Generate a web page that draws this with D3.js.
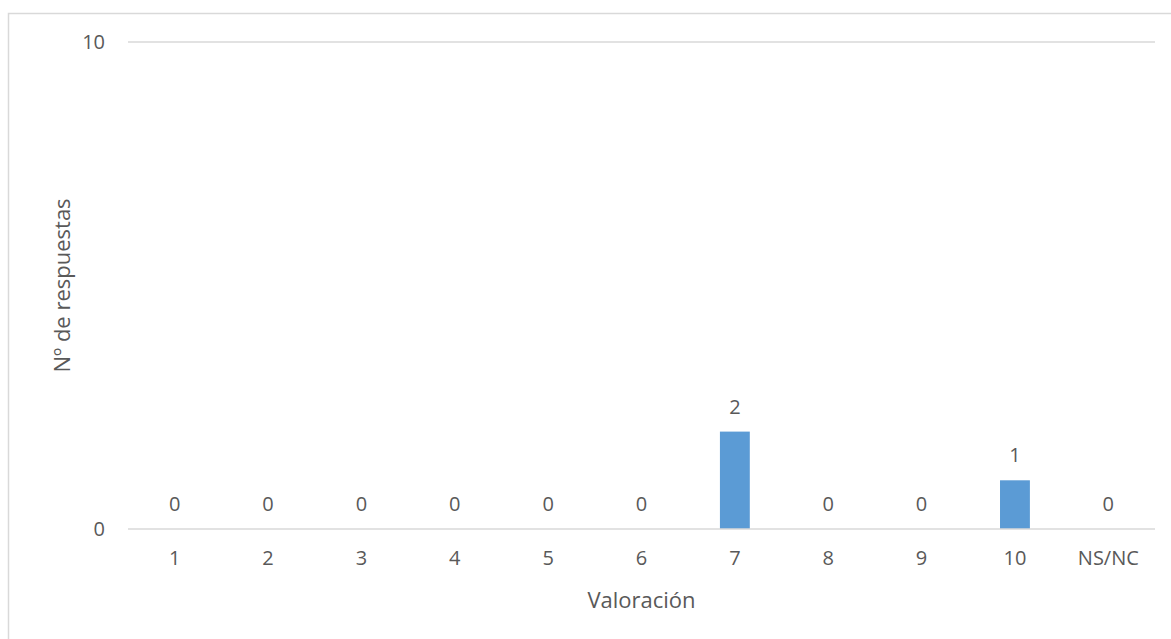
<!DOCTYPE html>
<html>
<head>
<meta charset="utf-8">
<script src="https://cdn.jsdelivr.net/npm/d3@7"></script>
<style>
  html, body { margin: 0; padding: 0; background: #fff; }
  svg { display: block; }
  text { font-family: "Open Sans", "Noto Sans", sans-serif; fill: #595959; }
</style>
</head>
<body>
<svg id="chart" width="1171" height="639"></svg>
<script>
const categories = ["1", "2", "3", "4", "5", "6", "7", "8", "9", "10", "NS/NC"];
const responses  = [0, 0, 0, 0, 0, 0, 2, 0, 0, 1, 0];
const yTicks     = [0, 10];
const xTitle = "Valoración";
const yTitle = "Nº de respuestas";

const data = categories.map((c, i) => ({ cat: c, val: responses[i] }));

const svg = d3.select("#chart");
const W = 1171, H = 639;
const plot = { left: 128, right: 1155, top: 42, bottom: 529 };
const numSize = 20, titleSize = 22;

// chart border
svg.append("rect")
  .attr("x", 8.5).attr("y", 13.5)
  .attr("width", W).attr("height", H)
  .attr("fill", "none").attr("stroke", "#d9d9d9").attr("stroke-width", 1.5);

const x = d3.scaleBand().domain(categories).range([plot.left, plot.right]).paddingInner(0.68).paddingOuter(0.34);
const y = d3.scaleLinear().domain([0, 10]).range([plot.bottom, plot.top]);

// gridlines
svg.append("g").selectAll("line").data(yTicks.filter(t => t !== 0)).join("line")
  .attr("x1", plot.left).attr("x2", plot.right)
  .attr("y1", d => y(d)).attr("y2", d => y(d))
  .attr("stroke", "#d9d9d9").attr("stroke-width", 1.3);

// y axis tick labels
const yAxis = d3.axisLeft(y).tickValues(yTicks).tickSize(0).tickPadding(23).tickFormat(d3.format("d"));
const gy = svg.append("g").attr("transform", `translate(${plot.left},0)`).call(yAxis);
gy.select(".domain").remove();
gy.selectAll("text").attr("font-size", numSize).attr("fill", "#595959").attr("font-family", "Open Sans");

// bars
svg.append("g").selectAll("rect").data(data).join("rect")
  .attr("x", d => x(d.cat))
  .attr("width", x.bandwidth())
  .attr("y", d => y(d.val))
  .attr("height", d => y(0) - y(d.val))
  .attr("fill", "#5b9bd5");

// x axis
const xAxis = d3.axisBottom(x).tickSize(0).tickPadding(22);
const gx = svg.append("g").attr("transform", `translate(0,${plot.bottom})`).call(xAxis);
gx.select(".domain").attr("stroke", "#d9d9d9").attr("stroke-width", 1.3)
  .attr("d", `M${plot.left},0H${plot.right}`);
gx.selectAll("text").attr("font-size", numSize).attr("fill", "#595959").attr("font-family", "Open Sans");

// data labels
svg.append("g").selectAll("text").data(data).join("text")
  .attr("x", d => x(d.cat) + x.bandwidth() / 2)
  .attr("y", d => y(d.val) - 25)
  .attr("dy", "0.35em")
  .attr("text-anchor", "middle")
  .attr("font-size", numSize)
  .text(d => d.val);

// axis titles
svg.append("text")
  .attr("x", (plot.left + plot.right) / 2)
  .attr("y", 600).attr("dy", "0.35em")
  .attr("text-anchor", "middle")
  .attr("font-size", titleSize)
  .text(xTitle);

svg.append("text")
  .attr("transform", `translate(62,${(plot.top + plot.bottom) / 2}) rotate(-90)`)
  .attr("dy", "0.35em")
  .attr("text-anchor", "middle")
  .attr("font-size", titleSize)
  .text(yTitle);
</script>
</body>
</html>
